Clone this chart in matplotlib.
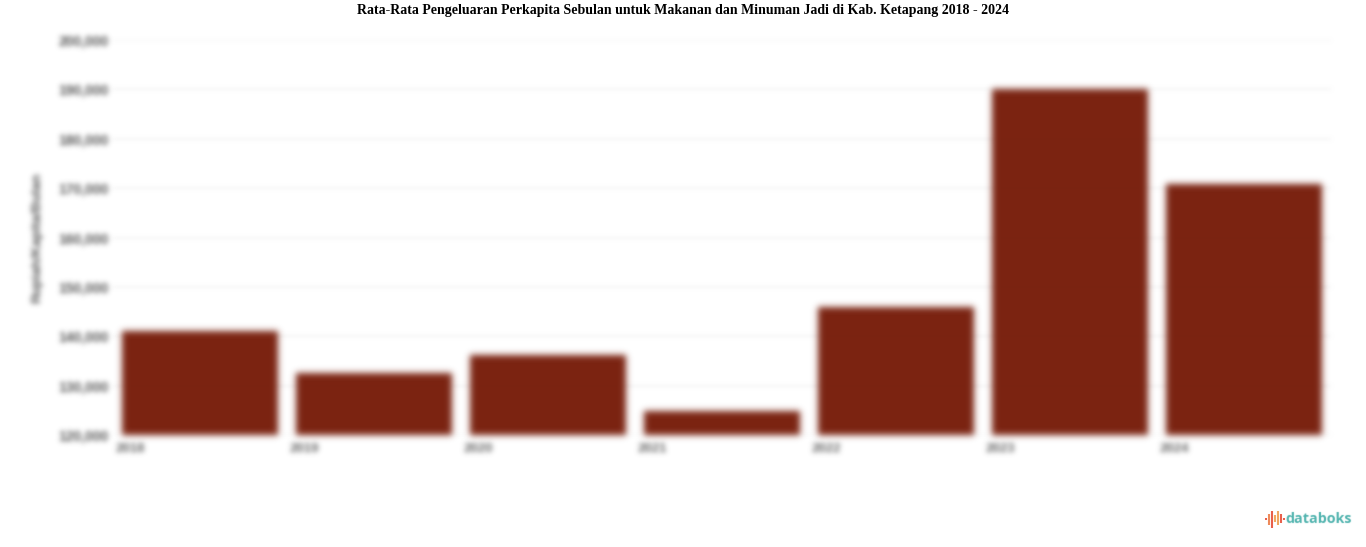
import numpy as np
import matplotlib
matplotlib.use("Agg")
import matplotlib.pyplot as plt

# values
years = ['2018', '2019', '2020', '2021', '2022', '2023', '2024']
spending = [141000, 132600, 136200, 124900, 145900, 190000, 170800]
y_ticks = [120000, 130000, 140000, 150000, 160000, 170000, 180000, 190000, 200000]
title = 'Rata-Rata Pengeluaran Perkapita Sebulan untuk Makanan dan Minuman Jadi di Kab. Ketapang 2018 - 2024'
y_title = 'Rupiah/Kapita/Bulan'
logo_bars = [1, 2, 3, 4, 5, 6, 7]
logo_tops = [0.6, 0.8, 1.0, 0.75, 1.0, 0.8, 0.6]
logo_bottoms = [0.5, 0.2, 0.0, 0.35, 0.2, 0.3, 0.5]
logo_colors = ['#e8604c', '#ee8a5a', '#e8604c', '#f0a860', '#f0a860', '#e8604c', '#e8604c']


def blur(sigma):
    # gaussian blur for artists, the reference is soft everywhere except the title
    r = int(3 * sigma)
    k = np.exp(-0.5 * (np.arange(-r, r + 1) / sigma) ** 2)
    k /= k.sum()

    def f(img, dpi):
        pad = r + 2
        out = np.zeros((img.shape[0] + 2 * pad, img.shape[1] + 2 * pad, 4))
        out[pad:-pad, pad:-pad] = img
        # blur premultiplied so the colour does not go dark at the edges
        out[..., :3] *= out[..., 3:]
        for axis in (0, 1):
            out = np.apply_along_axis(lambda m: np.convolve(m, k, mode='same'), axis, out)
        a = np.clip(out[..., 3:], 1e-6, 1)
        out[..., :3] = np.clip(out[..., :3] / a, 0, 1)
        return out, -pad, -pad
    return f


fig = plt.figure(figsize=(13.66, 5.47), dpi=100)
W, H = 1366, 547
ax = fig.add_axes([113 / W, 1 - 435 / H, 1218 / W, 395 / H])

x = np.arange(len(years))
base = y_ticks[0]
bars = ax.bar(x, [v - base for v in spending], bottom=base, width=0.893, color='#7a2210',
              zorder=3, clip_on=False)
for b in bars:
    b.set_agg_filter(blur(3.4))
ax.set_xlim(-0.5, 6.5)
ax.set_ylim(120000, 200000)
ax.set_yticks(y_ticks)
ax.set_yticklabels([f'{v:,}' for v in y_ticks], fontsize=10, color='#555555',
                   family='Liberation Sans', weight='bold')
ax.set_xticks(x - 0.485)
ax.set_xticklabels(years, fontsize=9.5, color='#666666', ha='left', family='Liberation Sans',
                   weight='bold')
ax.tick_params(length=0, pad=3)
ax.tick_params(axis='x', pad=6)
ax.grid(axis='y', color='#f3f3f3', lw=1.2, zorder=0)
for g in ax.get_ygridlines():
    g.set_agg_filter(blur(1.8))
for s in ax.spines.values():
    s.set_visible(False)
for t in ax.get_xticklabels() + ax.get_yticklabels():
    t.set_agg_filter(blur(2.6))

fig.text(37 / W, 1 - 238 / H, y_title, rotation=90, ha='center', va='center', fontsize=9.6,
         color='#555555', family='Liberation Sans', weight='bold', agg_filter=blur(2.6))
fig.text(683 / W, 1 - 10.5 / H, title, ha='center', va='center', fontsize=10.04, weight='bold',
         family='Liberation Serif', color='black')

# logo
fig.text(1285.5 / W, 1 - 519 / H, 'databoks', ha='left', va='center', fontsize=10.3,
         color='#4fb3ae', weight='bold', family='Open Sans', agg_filter=blur(0.5))
lax = fig.add_axes([1265 / W, 1 - 528 / H, 20 / W, 17 / H])
lax.axis('off')
lax.vlines(logo_bars, logo_bottoms, logo_tops, colors=logo_colors, lw=1.5)
lax.set_xlim(0.5, 7.5)
lax.set_ylim(0, 1)

fig.savefig('out.png', dpi=100)
